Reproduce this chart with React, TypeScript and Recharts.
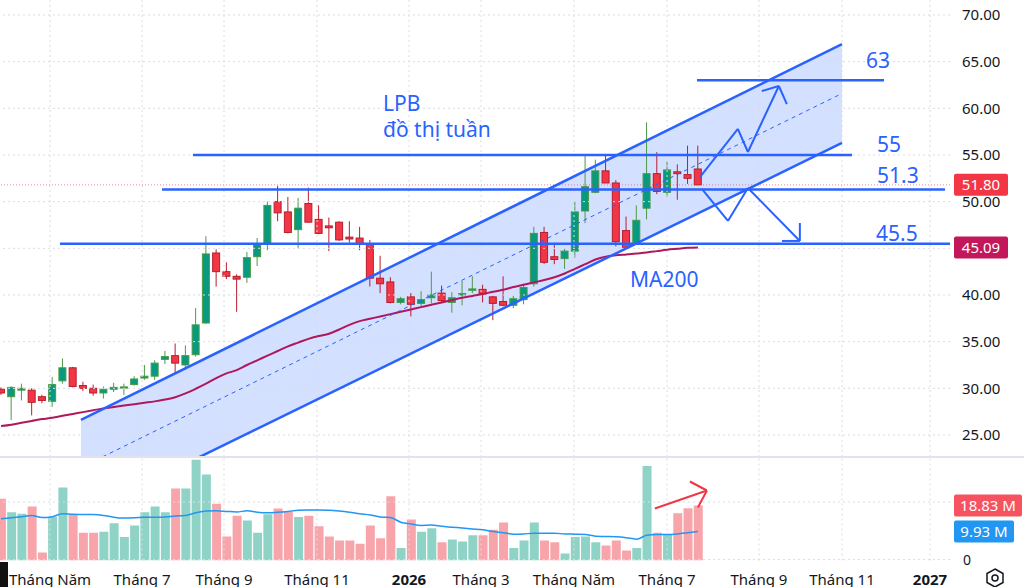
import React from 'react';
import {
  ComposedChart, Bar, Line, Area, XAxis, YAxis,
  ReferenceLine, ReferenceDot, Cell,
} from 'recharts';

// Weekly LPB candles (index 0 = first visible week)
const OPEN = [
  29.9, 29.1, 29.8, 29.8, 29.1, 28.6, 30.8, 32.2, 30.3, 30.0,
  29.5, 29.9, 30.05, 30.4, 31.1, 31.3, 33.1, 33.5, 32.5, 33.6,
  37.0, 44.5, 42.5, 42.0, 41.9, 44.1, 45.5, 50.0, 48.9, 47.0,
  49.8, 48.1, 47.4, 47.8, 46.2, 46.1, 45.5, 41.8, 41.4, 39.2,
  39.8, 39.1, 39.7, 40.2, 39.2, 40.0, 40.5, 40.6, 39.8, 39.3,
  38.9, 39.5, 41.2, 46.7, 44.1, 43.9, 44.7, 49.0, 51.0, 53.3,
  52.0, 46.9, 45.6, 49.3, 53.0, 51.0, 53.2, 52.9, 53.5,
];
const HIGH = [
  30.1, 30.2, 30.5, 30.0, 29.3, 31.2, 33.2, 32.3, 30.7, 30.4,
  30.2, 30.6, 30.5, 31.3, 32.5, 33.0, 34.0, 34.8, 34.6, 38.6,
  46.3, 44.9, 43.5, 42.2, 44.6, 46.1, 50.0, 51.7, 50.5, 50.4,
  51.5, 49.6, 48.3, 47.9, 47.9, 47.3, 45.9, 44.2, 41.9, 39.8,
  40.2, 40.4, 42.5, 41.0, 40.3, 41.5, 42.0, 41.1, 39.9, 42.0,
  39.9, 41.2, 47.3, 47.3, 45.6, 45.0, 50.0, 55.1, 54.5, 55.0,
  52.3, 48.4, 49.6, 58.5, 55.3, 54.3, 54.0, 56.0, 56.0,
];
const LOW = [
  29.3, 26.6, 28.7, 27.1, 28.4, 28.0, 30.5, 30.1, 29.7, 29.2,
  28.9, 29.6, 29.3, 30.3, 30.9, 30.9, 32.6, 31.6, 32.0, 33.4,
  36.9, 40.9, 41.7, 38.2, 41.3, 43.1, 44.8, 47.9, 46.6, 45.0,
  47.8, 46.5, 44.7, 45.8, 45.6, 44.8, 40.9, 40.2, 39.1, 39.0,
  37.7, 38.7, 39.1, 39.2, 38.1, 38.9, 40.2, 39.2, 37.3, 38.8,
  38.6, 39.0, 40.9, 43.3, 43.3, 42.8, 44.0, 47.7, 50.9, 52.0,
  45.2, 45.1, 45.6, 48.1, 50.8, 50.5, 50.2, 51.9, 51.8,
];
const CLOSE = [
  29.5, 30.1, 30.0, 28.5, 28.7, 30.4, 32.2, 30.2, 30.0, 29.5,
  29.9, 30.1, 30.15, 31.0, 31.3, 32.7, 33.4, 32.7, 33.5, 36.8,
  44.4, 42.5, 42.0, 41.7, 44.0, 45.4, 49.6, 48.8, 46.7, 49.3,
  47.8, 46.6, 47.2, 45.9, 46.0, 45.5, 41.8, 41.2, 39.2, 39.6,
  39.0, 39.5, 40.0, 39.4, 39.7, 40.15, 40.65, 40.1, 39.1, 38.9,
  39.6, 40.8, 46.6, 43.5, 43.8, 44.7, 48.9, 51.6, 53.3, 52.0,
  45.7, 45.1, 48.0, 53.0, 51.1, 53.4, 53.0, 52.5, 51.8,
];
// Volume in millions of shares
const VOLUME = [
  21.1, 16.5, 16.0, 18.5, 2.7, 15.0, 25.0, 15.7, 9.5, 9.5,
  9.8, 12.7, 8.0, 12.0, 16.5, 18.5, 16.5, 24.6, 24.6, 34.5,
  29.4, 19.4, 8.2, 15.3, 13.7, 9.5, 15.8, 17.8, 16.9, 14.9,
  15.3, 11.7, 8.2, 6.8, 6.8, 5.7, 12.0, 7.6, 22.0, 4.3,
  14.0, 9.8, 11.0, 6.2, 7.2, 6.5, 8.6, 8.6, 10.5, 13.0,
  4.3, 6.8, 13.0, 6.8, 6.2, 2.4, 8.0, 8.2, 6.2, 5.1,
  6.8, 3.4, 4.3, 32.3, 9.5, 8.9, 16.2, 17.9, 18.83,
];
const VOL_MA = [
  14.3, 14.6, 15.0, 15.4, 14.7, 15.0, 16.0, 15.8, 15.7, 15.7,
  15.4, 14.8, 14.5, 14.6, 14.8, 14.8, 14.9, 15.2, 15.4, 16.3,
  16.9, 17.0, 16.8, 16.6, 17.0, 16.5, 16.3, 16.5, 16.8, 17.2,
  17.3, 17.3, 17.2, 16.9, 16.5, 16.0, 15.6, 14.9, 14.7, 13.1,
  12.5, 12.0, 12.1, 11.7, 11.4, 11.1, 10.8, 10.5, 9.9, 9.5,
  9.0, 9.1, 9.3, 9.3, 9.3, 9.1, 9.0, 8.9, 8.3, 8.2,
  8.1, 7.8, 7.3, 8.6, 8.9, 8.9, 9.1, 9.5, 9.93,
];
const MA200 = [
  25.95, 26.1, 26.3, 26.5, 26.7, 26.85, 27.05, 27.25, 27.45, 27.65,
  27.85, 28.0, 28.15, 28.3, 28.45, 28.6, 28.8, 29.05, 29.45, 29.95,
  30.5, 31.1, 31.6, 31.95, 32.5, 33.0, 33.5, 34.0, 34.5, 34.9,
  35.3, 35.6, 35.85, 36.3, 36.8, 37.2, 37.45, 37.7, 37.95, 38.2,
  38.45, 38.7, 38.95, 39.2, 39.45, 39.7, 39.9, 40.1, 40.35, 40.55,
  40.85, 41.1, 41.35, 41.6, 41.9, 42.3, 42.8, 43.3, 43.8, 44.1,
  44.25, 44.35, 44.45, 44.55, 44.7, 44.85, 44.95, 45.05, 45.09,
];

// month boundaries on the week index scale
const MONTH_POS = [4.78, 13.76, 21.76, 30.83, 39.81, 46.84, 55.91, 64.99, 73.96, 82.06, 90.65];
const MONTH_LABELS = ['Tháng Năm', 'Tháng 7', 'Tháng 9', 'Tháng 11', '2026', 'Tháng 3', 'Tháng Năm', 'Tháng 7', 'Tháng 9', 'Tháng 11', '2027'];
const PRICE_TICKS = [25, 30, 35, 40, 45, 50, 55, 60, 65, 70];

// hand-drawn channel (week index, price)
const CHANNEL_X = [7.8, 82.06];
const CHANNEL_LOW = [16.43, 56.29];
const CHANNEL_HIGH = [26.61, 66.89];
const CHANNEL_MID = [21.52, 61.59];

// horizontal levels: price, from, to, label
const LEVELS = [
  { price: 63, from: 67.91, to: 86.16, label: '63', lx: 84.4, ly: 64.32 },
  { price: 55, from: 18.73, to: 83.04, label: '55', lx: 85.48, ly: 55.32 },
  { price: 51.3, from: 15.71, to: 92.11, label: '51.3', lx: 85.48, ly: 52.0 },
  { price: 45.5, from: 5.75, to: 92.6, label: '45.5', lx: 85.38, ly: 45.79 },
];

const UP_PATH = [[68.2, 52.64], [71.9, 57.79], [72.88, 55.32], [75.9, 62.39]];
const UP_HEAD = [[74.24, 61.86], [75.9, 62.39], [76.68, 60.46]];
const DOWN_PATH = [[68.39, 51.36], [70.93, 47.93], [72.88, 51.46], [77.95, 45.79]];
const DOWN_HEAD = [[76.2, 45.79], [77.95, 45.79], [77.95, 47.71]];
const VOL_ARROW = [[63.8, 17.78], [68.88, 23.94]];
const VOL_HEAD = [[67.22, 27.02], [68.88, 23.94], [68.0, 18.13]];

const NOTES = [
  { x: 37.27, y: 59.75, text: 'LPB' },
  { x: 37.27, y: 56.95, text: 'đồ thị tuần' },
  { x: 61.38, y: 40.86, text: 'MA200' },
];

const X_MIN = -0.1;
const X_MAX = 92.6;
const BLUE = '#2962ff';
const FONT = "'Noto Sans', sans-serif";
const GRID = '#d9dce3';
const BODY_W = 8;

const rows = OPEN.map((o, i) => ({
  x: i, o, h: HIGH[i], l: LOW[i], c: CLOSE[i],
  v: VOLUME[i], vma: VOL_MA[i], ma: MA200[i],
}));
const channel = CHANNEL_X.map((x, i) => ({ x, band: [CHANNEL_LOW[i], CHANNEL_HIGH[i]] }));

function Candle(props: any) {
  const { x, y, width, height, payload } = props;
  const { o, h, l, c } = payload;
  const up = c >= o;
  const top = Math.min(y, y + height);
  const hh = Math.abs(height);
  const span = h - l || 1;
  const py = (v: number) => top + ((h - v) / span) * hh;
  const bTop = py(Math.max(o, c));
  const bBot = py(Math.min(o, c));
  const cx = x + width / 2;
  const fill = up ? '#089981' : '#f23645';
  const edge = up ? '#4a9a45' : '#b81d2d';
  return (
    <g>
      <line x1={cx} x2={cx} y1={top} y2={top + hh} stroke={edge} strokeWidth={1} />
      <rect x={cx - BODY_W / 2 + 0.5} y={bTop} width={BODY_W - 1} height={Math.max(bBot - bTop, 1.2)}
        fill={fill} stroke={edge} strokeWidth={1} />
    </g>
  );
}

const tag = (text: string, bg: string, w: number) => (p: any) => (
  <g>
    <rect x={p.cx + 4} y={p.cy - 11} width={w} height={22} rx={2} fill={bg} />
    <text x={p.cx + 4 + w / 2} y={p.cy} dy="0.36em" textAnchor="middle" fill="#fff"
      fontSize={15} fontFamily={FONT}>{text}</text>
  </g>
);

const note = (text: string) => (p: any) => (
  <text x={p.cx} y={p.cy} fill={BLUE} fontSize={21} fontFamily={FONT}>{text}</text>
);

function segs(pts: number[][], key: string, stroke: string, width: number) {
  return pts.slice(1).map((pt, i) => (
    <ReferenceLine key={`${key}-${i}`} segment={[{ x: pts[i][0], y: pts[i][1] }, { x: pt[0], y: pt[1] }]}
      stroke={stroke} strokeWidth={width} ifOverflow="visible" />
  ));
}

function MonthTick(props: any) {
  const { x, y, payload } = props;
  const i = MONTH_POS.indexOf(payload.value);
  const label = MONTH_LABELS[i] ?? '';
  const bold = /^\d{4}$/.test(label);
  return (
    <text x={x} y={y + 24} textAnchor="middle" fill="#131722" fontSize={15}
      fontWeight={bold ? 700 : 400} fontFamily={FONT}>{label}</text>
  );
}

export default function App() {
  return (
    <div style={{ position: 'absolute', left: 0, top: 0, width: 1024, height: 587, background: '#fff', fontFamily: FONT, overflow: 'hidden' }}>
      <ComposedChart width={1024} height={457} data={rows} margin={{ top: 0, right: 0, bottom: 0, left: 0 }}>
        <XAxis type="number" dataKey="x" domain={[X_MIN, X_MAX]} allowDataOverflow hide />
        <YAxis orientation="right" width={74} domain={[22.64, 71.607]} allowDataOverflow
          ticks={PRICE_TICKS} tickFormatter={(v: number) => (v === 45 ? '' : v.toFixed(2))}
          tick={{ fill: '#131722', fontSize: 15, fontFamily: FONT }}
          tickSize={0} tickMargin={12} axisLine={false} tickLine={false} />
        {PRICE_TICKS.map((t) => (
          <ReferenceLine key={`gy${t}`} y={t} stroke={GRID} strokeDasharray="2 3" />
        ))}
        {MONTH_POS.map((m) => (
          <ReferenceLine key={`gx${m}`} x={m} stroke={GRID} strokeDasharray="2 3" />
        ))}
        <Area data={channel} dataKey="band" type="linear" stroke="none" fill={BLUE} fillOpacity={0.2}
          dot={false} activeDot={false} isAnimationActive={false} />
        <ReferenceLine y={51.8} stroke="#f23645" strokeOpacity={0.6} strokeDasharray="1 2" />
        <Line dataKey="ma" type="monotone" stroke="#b0185c" strokeWidth={2} dot={false} activeDot={false}
          isAnimationActive={false} />
        <Bar dataKey={(d: any) => [d.l, d.h]} barSize={8} shape={Candle} isAnimationActive={false} />
        <ReferenceLine segment={[{ x: CHANNEL_X[0], y: CHANNEL_HIGH[0] }, { x: CHANNEL_X[1], y: CHANNEL_HIGH[1] }]}
          stroke={BLUE} strokeWidth={2.5} ifOverflow="hidden" />
        <ReferenceLine segment={[{ x: CHANNEL_X[0], y: CHANNEL_LOW[0] }, { x: CHANNEL_X[1], y: CHANNEL_LOW[1] }]}
          stroke={BLUE} strokeWidth={2.5} ifOverflow="hidden" />
        <ReferenceLine segment={[{ x: CHANNEL_X[0], y: CHANNEL_MID[0] }, { x: CHANNEL_X[1], y: CHANNEL_MID[1] }]}
          stroke={BLUE} strokeWidth={1} strokeDasharray="4 4" ifOverflow="hidden" />
        {LEVELS.map((lv) => (
          <ReferenceLine key={`lv${lv.label}`} segment={[{ x: lv.from, y: lv.price }, { x: lv.to, y: lv.price }]}
            stroke={BLUE} strokeWidth={2.5} ifOverflow="visible" />
        ))}
        {LEVELS.map((lv) => (
          <ReferenceDot key={`lt${lv.label}`} x={lv.lx} y={lv.ly} r={0} shape={note(lv.label)} ifOverflow="visible" />
        ))}
        {NOTES.map((n) => (
          <ReferenceDot key={`n${n.text}`} x={n.x} y={n.y} r={0} shape={note(n.text)} ifOverflow="visible" />
        ))}
        {segs(UP_PATH, 'up', BLUE, 2)}
        {segs(UP_HEAD, 'uh', BLUE, 2)}
        {segs(DOWN_PATH, 'dn', BLUE, 2)}
        {segs(DOWN_HEAD, 'dh', BLUE, 2)}
        <ReferenceDot x={X_MAX} y={51.8} r={0} shape={tag('51.80', '#f23645', 54)} ifOverflow="visible" />
        <ReferenceDot x={X_MAX} y={45.09} r={0} shape={tag('45.09', '#c2185b', 54)} ifOverflow="visible" />
      </ComposedChart>

      <div style={{ position: 'absolute', left: 0, top: 456, width: 1024, height: 2, background: '#e0e3eb' }} />

      <div style={{ position: 'absolute', left: 0, top: 457 }}>
        <ComposedChart width={1024} height={130} data={rows} margin={{ top: 0, right: 0, bottom: 0, left: 0 }}>
          <XAxis type="number" dataKey="x" domain={[X_MIN, X_MAX]} allowDataOverflow
            ticks={MONTH_POS} interval={0} height={26.5} tick={<MonthTick />}
            tickSize={0} tickMargin={0} axisLine={false} tickLine={false} />
          <YAxis orientation="right" width={74} domain={[0, 35.4]} allowDataOverflow ticks={[0]}
            tick={{ fill: '#131722', fontSize: 14, fontFamily: FONT }}
            tickSize={0} tickMargin={13} axisLine={false} tickLine={false} />
          {MONTH_POS.map((m) => (
            <ReferenceLine key={`vx${m}`} x={m} stroke={GRID} strokeDasharray="2 3" />
          ))}
          <ReferenceLine y={20} stroke={GRID} strokeDasharray="2 3" />
          <ReferenceLine y={0.3} stroke={GRID} strokeDasharray="2 3" />
          <Bar dataKey="v" barSize={9} isAnimationActive={false}>
            {rows.map((r) => (
              <Cell key={`vc${r.x}`} fill={r.c >= r.o ? '#8fd3c7' : '#f7a5ab'} />
            ))}
          </Bar>
          <Line dataKey="vma" type="monotone" stroke="#2196f3" strokeWidth={1.5} dot={false} activeDot={false}
            isAnimationActive={false} />
          {segs(VOL_ARROW, 'va', '#f23645', 2)}
          {segs(VOL_HEAD, 'vh', '#f23645', 2)}
          <ReferenceDot x={X_MAX} y={18.83} r={0} shape={tag('18.83 M', '#f7525f', 68)} ifOverflow="visible" />
          <ReferenceDot x={X_MAX} y={9.93} r={0} shape={tag('9.93 M', '#2196f3', 60)} ifOverflow="visible" />
        </ComposedChart>
      </div>

      <div style={{ position: 'absolute', left: 0, top: 562, width: 8, height: 25, background: '#111' }} />
      <svg style={{ position: 'absolute', left: 984, top: 567 }} width={22} height={22} viewBox="0 0 22 22">
        <polygon points="11,2 19,6.5 19,15.5 11,20 3,15.5 3,6.5" fill="none" stroke="#131722" strokeWidth={1.5} />
        <circle cx={11} cy={11} r={3} fill="none" stroke="#131722" strokeWidth={1.5} />
      </svg>
    </div>
  );
}
